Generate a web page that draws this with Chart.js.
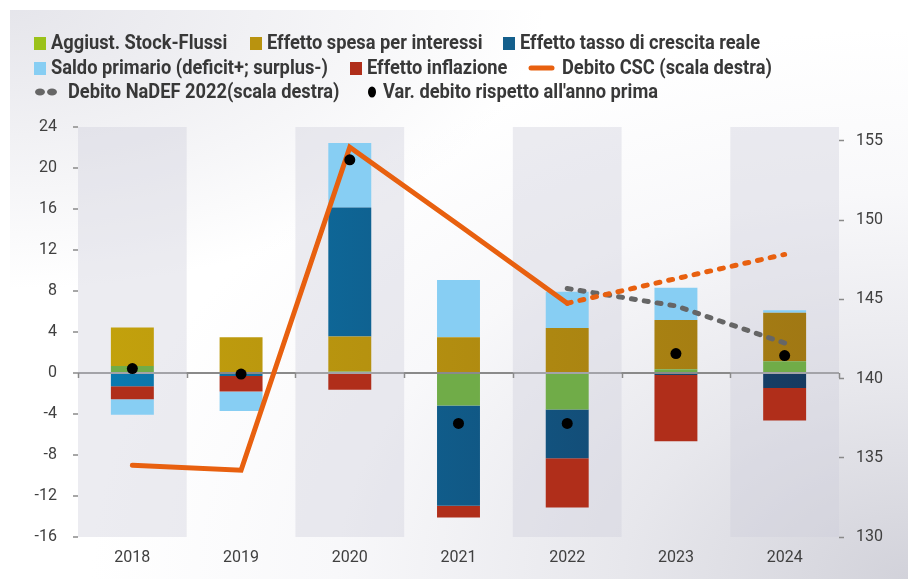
<!DOCTYPE html>
<html lang="it">
<head>
<meta charset="utf-8">
<title>Debito pubblico - scomposizione</title>
<script src="https://cdn.jsdelivr.net/npm/chart.js@4.4.1/dist/chart.umd.min.js"></script>
<style>
    html, body { margin: 0; padding: 0; background: #ffffff; }
    #wrap {
        position: relative;
        width: 908px;
        height: 579px;
        background:
            radial-gradient(ellipse 60% 50% at 0% 0%, rgba(222, 222, 229, 0.8), rgba(255, 255, 255, 0) 100%),
            radial-gradient(ellipse 90% 95% at 100% 100%, #d2d2da 0%, #e7e7ec 35%, #f8f8fa 70%, #ffffff 100%);
        clip-path: inset(10px 0 0 10px);
    }
    canvas { position: absolute; left: 0; top: 0; }
</style>
</head>
<body>
<div id="wrap"><canvas id="chart" width="908" height="579"></canvas></div>
<script>
// categories
const anni = ['2018', '2019', '2020', '2021', '2022', '2023', '2024'];

// contributi alla variazione del debito (scala sinistra, punti di PIL)
const stockFlussi   = [0.68, 0.0, 0.15, -3.16, -3.55, 0.36, 1.14];
const interessi     = [3.76, 3.49, 3.40, 3.49, 4.40, 4.80, 4.73];
const crescitaReale = [-1.30, -0.30, 12.60, -9.79, -4.77, -0.20, -1.47];
const inflazione    = [-1.27, -1.50, -1.63, -1.14, -4.79, -6.45, -3.16];
const saldoPrimario = [-1.50, -1.90, 6.30, 5.58, 3.53, 3.16, 0.26];
const varDebito     = [0.43, -0.10, 20.80, -4.92, -4.92, 1.90, 1.70];

// debito / PIL (scala destra)
const debitoCSC   = [134.53, 134.21, 154.6, 149.7, 144.75, 146.3, 147.83];
const debitoNaDEF = [null, null, null, null, 145.68, 144.58, 142.24];

// tick labels
const ticksSinistra = [-16, -12, -8, -4, 0, 4, 8, 12, 16, 20, 24];
const ticksDestra   = [130, 135, 140, 145, 150, 155];

const FONT = 'Roboto, "Noto Sans", sans-serif';
const TEXT_COLOR = '#404040';

/**
 * Horizontal gradient over the chart area (the original bars shade left to right).
 */
function hGradient(from, to) {
    return function(ctx) {
        const area = ctx.chart.chartArea;
        if (!area) return from;
        const g = ctx.chart.ctx.createLinearGradient(area.left, 0, area.right, 0);
        g.addColorStop(0, from);
        g.addColorStop(1, to);
        return g;
    };
}

// grey bands behind every other year + small ticks on the zero line
const bandsPlugin = {
    id: 'bands',
    beforeDatasetsDraw(chart) {
        const { ctx, chartArea, scales } = chart;
        const x = scales.x;
        ctx.save();
        ctx.fillStyle = 'rgba(205, 205, 218, 0.38)';
        for (let i = 0; i < anni.length; i += 2) {
            const l = x.getPixelForValue(i - 0.5);
            const r = x.getPixelForValue(i + 0.5);
            ctx.fillRect(l, chartArea.top, r - l, chartArea.bottom - chartArea.top);
        }
        const y0 = scales.y.getPixelForValue(0);
        ctx.strokeStyle = '#8a8a8a';
        ctx.lineWidth = 1.5;
        for (let i = 0; i <= anni.length; i++) {
            const px = Math.round(x.getPixelForValue(i - 0.5)) + 0.5;
            ctx.beginPath();
            ctx.moveTo(px, y0);
            ctx.lineTo(px, y0 + 5);
            ctx.stroke();
        }
        ctx.restore();
    }
};

// legend laid out as in the original: three left-aligned rows
const legendItems = [
    { kind: 'box',  color: '#9bc21a', text: 'Aggiust. Stock-Flussi', x: 34, row: 0 },
    { kind: 'box',  color: '#b9930f', text: 'Effetto spesa per interessi', x: 250, row: 0 },
    { kind: 'box',  color: '#145f8c', text: 'Effetto tasso di crescita reale', x: 503, row: 0 },
    { kind: 'box',  color: '#87cef3', text: 'Saldo primario (deficit+; surplus-)', x: 34, row: 1 },
    { kind: 'box',  color: '#b02e1a', text: 'Effetto inflazione', x: 350, row: 1 },
    { kind: 'line', color: '#e8600f', text: 'Debito CSC (scala destra)', x: 529, row: 1 },
    { kind: 'dash', color: '#666666', text: 'Debito NaDEF 2022(scala destra)', x: 35, row: 2 },
    { kind: 'dot',  color: '#000000', text: "Var. debito rispetto all'anno prima", x: 368, row: 2 }
];
const legendPlugin = {
    id: 'customLegend',
    afterDraw(chart) {
        const ctx = chart.ctx;
        const rowY = [43, 68, 92];
        const sx = 0.87;
        ctx.save();
        ctx.font = 'bold 21px ' + FONT;
        ctx.textBaseline = 'middle';
        legendItems.forEach(item => {
            const y = rowY[item.row];
            let tx;
            if (item.kind === 'box') {
                ctx.fillStyle = item.color;
                ctx.fillRect(item.x, y - 6, 12, 13);
                tx = item.x + 17;
            } else if (item.kind === 'line') {
                ctx.strokeStyle = item.color;
                ctx.lineWidth = 5;
                ctx.lineCap = 'round';
                ctx.beginPath();
                ctx.moveTo(item.x + 2, y);
                ctx.lineTo(item.x + 23, y);
                ctx.stroke();
                tx = item.x + 33;
            } else if (item.kind === 'dash') {
                ctx.fillStyle = item.color;
                [item.x + 5, item.x + 17].forEach(cx => {
                    ctx.beginPath();
                    ctx.ellipse(cx, y, 5, 3.5, 0, 0, Math.PI * 2);
                    ctx.fill();
                });
                tx = item.x + 33;
            } else {
                ctx.fillStyle = item.color;
                ctx.beginPath();
                ctx.ellipse(item.x + 4, y, 4, 5.5, 0, 0, Math.PI * 2);
                ctx.fill();
                tx = item.x + 15;
            }
            ctx.save();
            ctx.translate(tx, y + 1);
            ctx.scale(sx, 1);
            ctx.fillStyle = '#383838';
            ctx.fillText(item.text, 0, 0);
            ctx.restore();
        });
        ctx.restore();
    }
};

const barCommon = {
    type: 'bar',
    yAxisID: 'y',
    order: 3,
    categoryPercentage: 1,
    barPercentage: 0.395,
    borderWidth: 0
};

new Chart(document.getElementById('chart'), {
    data: {
        labels: anni,
        datasets: [
            Object.assign({}, barCommon, {
                label: 'Aggiust. Stock-Flussi',
                data: stockFlussi,
                backgroundColor: '#70ac48'
            }),
            Object.assign({}, barCommon, {
                label: 'Effetto spesa per interessi',
                data: interessi,
                backgroundColor: hGradient('#c4a30c', '#9f7614')
            }),
            Object.assign({}, barCommon, {
                label: 'Effetto tasso di crescita reale',
                data: crescitaReale,
                backgroundColor: hGradient('#0a7db3', '#17375c')
            }),
            Object.assign({}, barCommon, {
                label: 'Effetto inflazione',
                data: inflazione,
                backgroundColor: '#b02e1a'
            }),
            Object.assign({}, barCommon, {
                label: 'Saldo primario (deficit+; surplus-)',
                data: saldoPrimario,
                backgroundColor: '#87cef3'
            }),
            {
                type: 'line',
                label: 'Debito CSC (scala destra)',
                data: debitoCSC,
                yAxisID: 'y2',
                order: 1,
                borderColor: '#e8600f',
                borderWidth: 5,
                borderCapStyle: 'round',
                pointRadius: 0,
                tension: 0,
                segment: {
                    borderDash: ctx => ctx.p0DataIndex >= 4 ? [4, 9] : undefined
                }
            },
            {
                type: 'line',
                label: 'Debito NaDEF 2022(scala destra)',
                data: debitoNaDEF,
                yAxisID: 'y2',
                order: 1,
                borderColor: '#666666',
                borderWidth: 5,
                borderCapStyle: 'round',
                borderDash: [4, 9],
                pointRadius: 0,
                tension: 0
            },
            {
                type: 'line',
                label: "Var. debito rispetto all'anno prima",
                data: varDebito,
                yAxisID: 'y',
                order: 0,
                showLine: false,
                pointRadius: 5.5,
                pointBackgroundColor: '#000000',
                pointBorderWidth: 0
            }
        ]
    },
    options: {
        responsive: false,
        animation: false,
        layout: { padding: { top: 127, left: 0, right: 0, bottom: 0 } },
        plugins: {
            legend: { display: false },
            tooltip: { enabled: false }
        },
        scales: {
            x: {
                stacked: true,
                grid: { display: false, drawTicks: false },
                border: { display: false },
                ticks: { color: TEXT_COLOR, font: { family: FONT, size: 16 }, padding: 11 },
                afterFit: scale => { scale.height = 42; }
            },
            y: {
                stacked: true,
                position: 'left',
                min: -16,
                max: 24,
                afterBuildTicks: axis => { axis.ticks = ticksSinistra.map(v => ({ value: v })); },
                ticks: { color: TEXT_COLOR, font: { family: FONT, size: 16 }, padding: 16 },
                grid: {
                    color: c => c.tick && c.tick.value === 0 ? '#8a8a8a' : 'rgba(0,0,0,0)',
                    lineWidth: 2,
                    tickColor: '#8a8a8a',
                    tickWidth: 1.5,
                    tickLength: 5
                },
                border: { display: false },
                afterFit: scale => { scale.width = 78; }
            },
            y2: {
                position: 'right',
                min: 130,
                max: 155.87,
                afterBuildTicks: axis => { axis.ticks = ticksDestra.map(v => ({ value: v })); },
                ticks: { color: TEXT_COLOR, font: { family: FONT, size: 16 }, padding: 12 },
                grid: {
                    drawOnChartArea: false,
                    tickColor: '#8a8a8a',
                    tickWidth: 1.5,
                    tickLength: 5
                },
                border: { display: false },
                afterFit: scale => { scale.width = 69; }
            }
        }
    },
    plugins: [bandsPlugin, legendPlugin]
});
</script>
</body>
</html>
